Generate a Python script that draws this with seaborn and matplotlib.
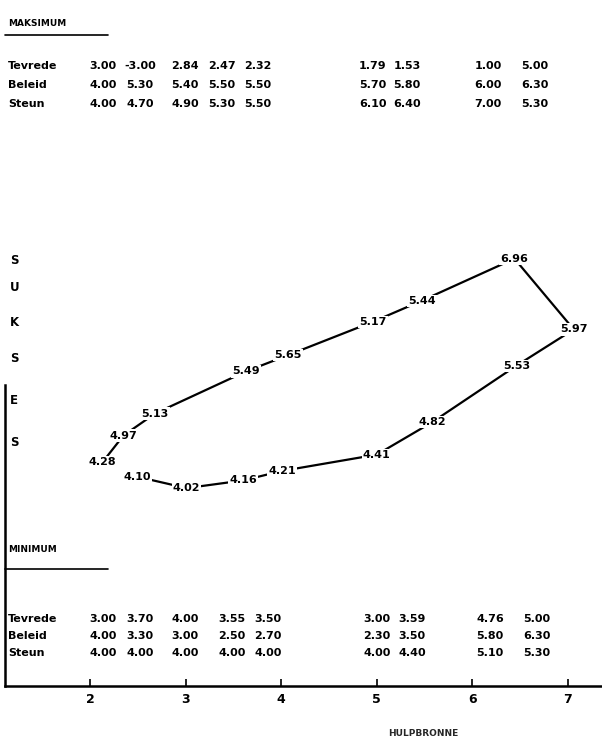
import matplotlib
matplotlib.use('Agg')
import matplotlib.pyplot as plt
import seaborn as sns
import pandas as pd

# loop: hulpbronne (x), height above the x axis (y) and the sukses value written at each point
loop_labels = ['4.28', '4.97', '5.13', '5.49', '5.65', '5.17', '5.44', '6.96',
               '5.97', '5.53', '4.82', '4.41', '4.21', '4.16', '4.02', '4.10']
loop_x = [2.13, 2.35, 2.68, 3.63, 4.07, 4.96, 5.47, 6.44,
          7.06, 6.46, 5.58, 5.00, 4.01, 3.60, 3.01, 2.49]
loop_y = [2.34, 2.62, 2.85, 3.29, 3.46, 3.81, 4.03, 4.47,
          3.73, 3.35, 2.76, 2.42, 2.25, 2.15, 2.07, 2.19]

row_names = ['Tevrede', 'Beleid', 'Steun']
max_tevrede = ['3.00', '-3.00', '2.84', '2.47', '2.32', '1.79', '1.53', '1.00', '5.00']
max_beleid = ['4.00', '5.30', '5.40', '5.50', '5.50', '5.70', '5.80', '6.00', '6.30']
max_steun = ['4.00', '4.70', '4.90', '5.30', '5.50', '6.10', '6.40', '7.00', '5.30']
min_tevrede = ['3.00', '3.70', '4.00', '3.55', '3.50', '3.00', '3.59', '4.76', '5.00']
min_beleid = ['4.00', '3.30', '3.00', '2.50', '2.70', '2.30', '3.50', '5.80', '6.30']
min_steun = ['4.00', '4.00', '4.00', '4.00', '4.00', '4.00', '4.40', '5.10', '5.30']
x_ticks = [2, 3, 4, 5, 6, 7]

sns.set_style('white')
plt.rcParams['font.family'] = ['DejaVu Sans']
plt.rcParams['font.weight'] = 'bold'
plt.rcParams['text.color'] = 'black'
plt.rcParams['xtick.color'] = 'black'

W, H = 602, 739
fig = plt.figure(figsize=(W / 100, H / 100), dpi=100)

# axes: left spine at x=5px, bottom spine at y=686px
unit = 95.6
x0px, axis_y = 5, 686
ax = fig.add_axes([x0px / W, (H - axis_y) / H, 1 - x0px / W, axis_y / H])
ax.set_xlim(2 - (90 - x0px) / unit, 2 + (W - 90) / unit)
ax.set_ylim(0, axis_y / unit)

loop = pd.DataFrame({'x': loop_x + loop_x[:1], 'y': loop_y + loop_y[:1]})
sns.lineplot(data=loop, x='x', y='y', sort=False, color='black', lw=1.6, ax=ax, zorder=1)
for lab, x, y in zip(loop_labels, loop_x, loop_y):
    ax.text(x, y, lab, ha='center', va='center', fontsize=8, fontweight='bold', zorder=3,
            bbox=dict(boxstyle='square,pad=0.1', fc='white', ec='none'))

ax.set_xticks(x_ticks)
ax.set_xticklabels([str(t) for t in x_ticks], fontsize=9, fontweight='bold')
ax.tick_params(axis='x', direction='in', length=5, width=1.2, pad=5, bottom=True, colors='black')
ax.set_yticks([])
ax.set_xlabel('HULPBRONNE', fontsize=6.5, fontweight='bold')
ax.xaxis.set_label_coords(0.7, -0.062)
ax.set_ylabel('')
for s in ['top', 'right']:
    ax.spines[s].set_visible(False)
for s in ['bottom', 'left']:
    ax.spines[s].set_linewidth(1.8)
    ax.spines[s].set_color('black')
ax.spines['left'].set_bounds(0, (axis_y - 385) / unit)


def ftext(px, py, s, **kw):
    fig.text(px / W, 1 - py / H, s, fontweight='bold', va='center', **kw)


# SUKSES down the left side
for ch, py in zip('SUKSES', [260, 287, 322, 358, 400, 443]):
    ftext(10, py, ch, fontsize=8.5)

col_max = [103, 140, 185, 222, 258, 373, 407, 488, 535]
col_min = [103, 140, 185, 232, 268, 377, 412, 490, 537]


def table(title, ty, line_y, rows_y, cols, rows):
    ftext(8, ty, title, fontsize=6.5)
    fig.add_artist(plt.Line2D([5 / W, 108 / W], [1 - line_y / H] * 2,
                              color='black', lw=1.2, transform=fig.transFigure))
    for name, ry, vals in zip(row_names, rows_y, rows):
        ftext(8, ry, name, fontsize=8)
        for cx, v in zip(cols, vals):
            ftext(cx, ry, v, fontsize=8, ha='center')


table('MAKSIMUM', 24, 35, [66, 85, 104], col_max, [max_tevrede, max_beleid, max_steun])
table('MINIMUM', 550, 569, [619, 636, 653], col_min, [min_tevrede, min_beleid, min_steun])

fig.savefig('out.png', dpi=100)
